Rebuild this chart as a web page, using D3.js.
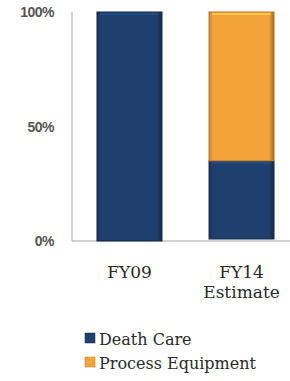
<!DOCTYPE html>
<html><head><meta charset="utf-8">
<script src="https://cdn.jsdelivr.net/npm/d3@7"></script>
<style>body{margin:0;background:#fff}
.serif{font-family:"DejaVu Serif",serif}</style>
</head><body>
<svg id="c" width="290" height="381"></svg>
<script>
const categories = [["FY09"], ["FY14", "Estimate"]];
const series = ["Death Care", "Process Equipment"];
const deathCare = [100, 35];
const processEquipment = [0, 65];
const yTicks = [0, 50, 100];
const colors = ["#1f3f6e", "#f2a43a"];
const edges = ["#152a4a", "#b9782a"];

const svg = d3.select("#c");
const W = 290;
const x = d3.scaleBand().domain(categories.map(d => d.join(" "))).range([72, 299]).paddingInner(0.42).paddingOuter(0.223);
const y = d3.scaleLinear().domain([0, 100]).range([241, 12]);

const defs = svg.append("defs");
colors.forEach((c, i) => {
  const g = defs.append("linearGradient").attr("id", "g" + i).attr("x1", 0).attr("x2", 1).attr("y1", 0).attr("y2", 0);
  g.append("stop").attr("offset", "0%").attr("stop-color", d3.color(c).darker(0.6));
  g.append("stop").attr("offset", "6%").attr("stop-color", c);
  g.append("stop").attr("offset", "92%").attr("stop-color", c);
  g.append("stop").attr("offset", "100%").attr("stop-color", d3.color(c).darker(1.2));
});

svg.append("line").attr("x1", 72).attr("x2", 72).attr("y1", y(100)).attr("y2", y(0)).attr("stroke", "#a6a6a6").attr("stroke-width", 1);
svg.append("line").attr("x1", 72).attr("x2", W).attr("y1", y(0)).attr("y2", y(0)).attr("stroke", "#a6a6a6").attr("stroke-width", 1);

svg.selectAll(".yt").data(yTicks).enter().append("text")
  .attr("x", 54).attr("y", d => y(d) + 5).attr("text-anchor", "end")
  .attr("font-family", "Liberation Sans, Arial, sans-serif").attr("font-size", 14).attr("font-weight", "bold").attr("fill", "#555")
  .attr("letter-spacing", -0.5)
  .text(d => d + "%");

const stackData = categories.map((c, i) => ({key: c.join(" "), dc: deathCare[i], pe: processEquipment[i]}));
const stack = d3.stack().keys(["dc", "pe"])(stackData);

stack.forEach((s, si) => {
  const data = s.filter(d => d[1] - d[0] > 0);
  svg.selectAll(".b" + si).data(data).enter().append("rect")
    .attr("x", d => x(d.data.key)).attr("width", x.bandwidth())
    .attr("y", d => y(d[1])).attr("height", d => y(d[0]) - y(d[1]) - (d[1] < 100 ? 2 : 0))
    .attr("fill", "url(#g" + si + ")").attr("stroke", edges[si]).attr("stroke-width", 1);
  svg.selectAll(".h" + si).data(data).enter().append("rect")
    .attr("x", d => x(d.data.key) + 3).attr("width", x.bandwidth() - 6)
    .attr("y", d => y(d[1]) + 1).attr("height", 2)
    .attr("fill", d3.color(colors[si]).brighter(0.7)).attr("opacity", 0.7);
});

categories.forEach(c => {
  const cx = x(c.join(" ")) + x.bandwidth() / 2;
  const t = svg.append("text").attr("class", "serif").attr("text-anchor", "middle")
    .attr("font-size", 17).attr("fill", "#2a2a2a");
  c.forEach((line, i) => t.append("tspan").attr("x", cx).attr("y", 278 + i * 20).text(line));
});

series.forEach((s, i) => {
  const yy = 345 + i * 24;
  svg.append("rect").attr("x", 85).attr("y", yy - 12).attr("width", 10).attr("height", 10).attr("fill", colors[i]).attr("stroke", edges[i]).attr("stroke-width", 0.5);
  svg.append("text").attr("class", "serif").attr("x", 99).attr("y", yy)
    .attr("font-size", 16).attr("fill", "#2a2a2a").text(s);
});
</script>
</body></html>
